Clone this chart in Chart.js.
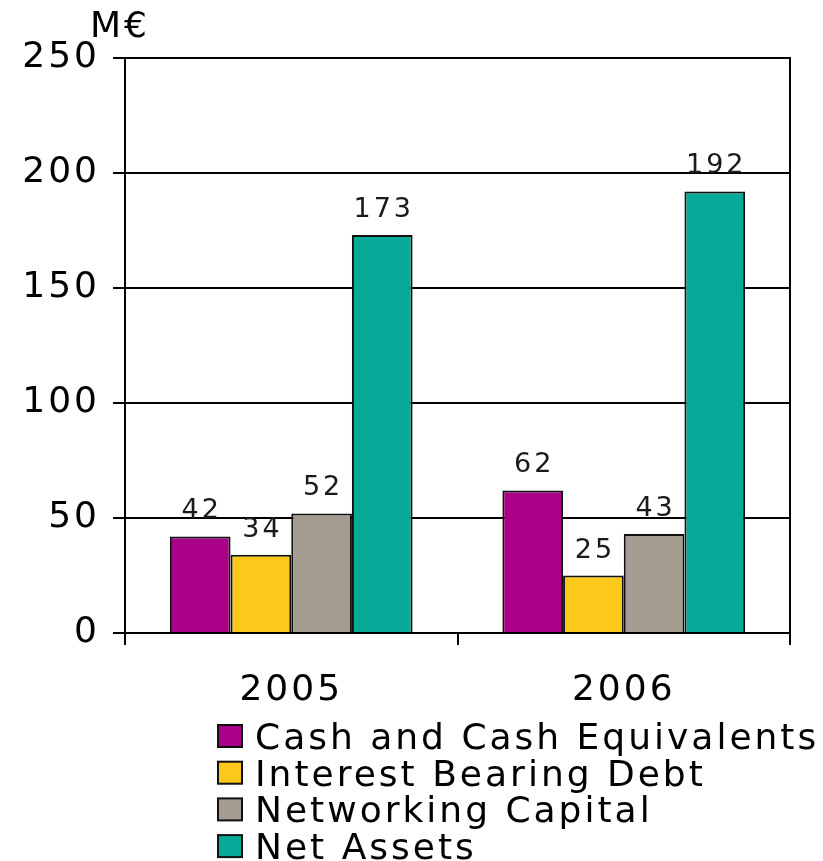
<!DOCTYPE html>
<html>
<head>
<meta charset="utf-8">
<script src="https://cdn.jsdelivr.net/npm/chart.js@4.4.0/dist/chart.umd.min.js"></script>
<style>
  html, body { margin: 0; padding: 0; background: #fff; }
</style>
</head>
<body>
<canvas id="balanceChart" width="823" height="861"></canvas>
<script>
/* ======================
   DATA
====================== */

const years = ["2005", "2006"];
const cashEquivalents = [42, 62];
const interestBearingDebt = [34, 25];
const networkingCapital = [52, 43];
const netAssets = [173, 192];

const seriesNames = [
  "Cash and Cash Equivalents",
  "Interest Bearing Debt",
  "Networking Capital",
  "Net Assets"
];
const seriesColors = ["#aa0088", "#fcc81a", "#a49b91", "#07a998"];

const FONT = '"DejaVu Sans", sans-serif';


/* ======================
   SPACED TEXT, VALUE LABELS, LEGEND
====================== */

const spacedText = {
  id: "spacedText",
  beforeUpdate(chart) {
    chart.ctx.letterSpacing = "3px";
  },
  beforeDraw(chart) {
    chart.ctx.letterSpacing = "3px";
  },
  afterDatasetsDraw(chart) {
    const ctx = chart.ctx;
    ctx.save();
    ctx.letterSpacing = "3px";
    ctx.font = "27px " + FONT;
    ctx.fillStyle = "#1a1a1a";
    ctx.textAlign = "center";
    ctx.textBaseline = "alphabetic";
    chart.data.datasets.forEach((ds, i) => {
      chart.getDatasetMeta(i).data.forEach((bar, j) => {
        ctx.fillText(String(ds.data[j]), bar.x + 1.5, bar.y - 18);
      });
    });
    ctx.restore();
  },
  afterDraw(chart) {
    const ctx = chart.ctx;
    ctx.save();
    ctx.letterSpacing = "3px";
    ctx.font = "36px " + FONT;
    ctx.fillStyle = "#000";
    ctx.textAlign = "left";
    ctx.textBaseline = "alphabetic";

    // unit caption above the value axis
    ctx.fillText("M€", 90, 37);

    // legend: one series per line under the year labels
    chart.data.datasets.forEach((ds, i) => {
      const base = 749 + i * 36.7;
      ctx.fillStyle = ds.backgroundColor;
      ctx.fillRect(218, base - 24, 24, 22);
      ctx.strokeStyle = "#111";
      ctx.lineWidth = 2;
      ctx.strokeRect(218, base - 24, 24, 22);
      ctx.fillStyle = "#000";
      ctx.fillText(ds.label, 255, base);
    });
    ctx.restore();
  }
};


/* ======================
   BAR CHART
====================== */

const ctx = document.getElementById("balanceChart").getContext("2d");

new Chart(ctx, {
  type: "bar",
  data: {
    labels: years,
    datasets: [cashEquivalents, interestBearingDebt, networkingCapital, netAssets].map((values, i) => ({
      label: seriesNames[i],
      data: values,
      backgroundColor: seriesColors[i],
      borderColor: "#111",
      borderWidth: 2,
      categoryPercentage: 0.73,
      barPercentage: 1
    }))
  },
  options: {
    responsive: false,
    animation: false,
    layout: {
      padding: { top: 58, right: 33, left: 0, bottom: 124 }
    },
    scales: {
      x: {
        grid: {
          offset: true,
          drawOnChartArea: false,
          tickLength: 12,
          color: "#000",
          lineWidth: 2
        },
        border: { color: "#000", width: 2 },
        ticks: {
          padding: 28,
          color: "#000",
          font: { family: FONT, size: 36, lineHeight: 1 }
        }
      },
      y: {
        min: 0,
        max: 250,
        afterFit: s => { s.width = 125; },
        grid: { color: "#000", lineWidth: 2, tickLength: 12 },
        border: { color: "#000", width: 2 },
        ticks: {
          stepSize: 50,
          padding: 13,
          color: "#000",
          font: { family: FONT, size: 36 }
        }
      },
      yRight: {
        position: "right",
        min: 0,
        max: 250,
        afterFit: s => { s.width = 0; },
        grid: { drawOnChartArea: false, drawTicks: false },
        border: { color: "#000", width: 2 },
        ticks: { display: false }
      }
    },
    plugins: {
      tooltip: { enabled: false },
      legend: { display: false }
    }
  },
  plugins: [spacedText]
});
</script>
</body>
</html>
